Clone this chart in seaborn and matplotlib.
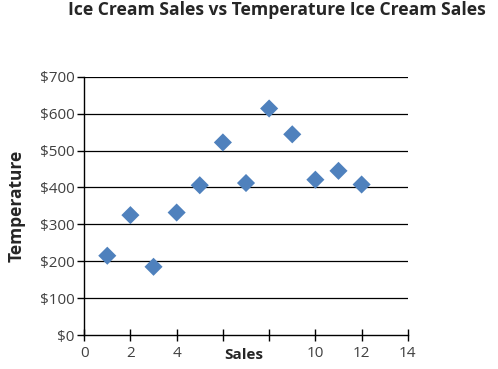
import matplotlib
matplotlib.use("Agg")
import matplotlib.pyplot as plt
import seaborn as sns
import pandas as pd
from matplotlib.ticker import FuncFormatter

# data
sales = [1, 2, 3, 4, 5, 6, 7, 8, 9, 10, 11, 12]
temperature = [215, 325, 185, 332, 406, 522, 412, 614, 544, 421, 445, 408]
x_ticks = [0, 2, 4, 6, 8, 10, 12, 14]
# 6 and 8 are hidden behind the "Sales" label in the original
x_tick_labels = ["0", "2", "4", "", "", "10", "12", "14"]
y_ticks = [0, 100, 200, 300, 400, 500, 600, 700]

df = pd.DataFrame({"Sales": sales, "Temperature": temperature})

sns.set_style("white")
plt.rcParams["font.family"] = ["Open Sans", "DejaVu Sans"]

fig = plt.figure(figsize=(4.98, 3.69), dpi=100)
ax = fig.add_axes([0.169, 0.092, 0.650, 0.700])

for y in y_ticks[1:]:
    ax.axhline(y, color="black", lw=0.9, zorder=0)

sns.scatterplot(data=df, x="Sales", y="Temperature", marker="D", s=85,
                color="#4F81BD", edgecolor="none", ax=ax, zorder=3)

ax.set_xlim(0, 14)
ax.set_ylim(0, 700)
ax.set_xticks(x_ticks)
ax.set_xticklabels(x_tick_labels)
ax.set_yticks(y_ticks)
ax.yaxis.set_major_formatter(FuncFormatter(lambda v, p: f"${int(v)}"))

for s in ["top", "right"]:
    ax.spines[s].set_visible(False)
for s in ["left", "bottom"]:
    ax.spines[s].set_color("black")
    ax.spines[s].set_linewidth(1.0)

ax.tick_params(axis="y", which="major", direction="out", length=5, width=1,
               color="black", labelsize=11, labelcolor="#404040", pad=2, left=True)
ax.tick_params(axis="x", which="major", direction="inout", length=8, width=1,
               color="black", labelsize=11, labelcolor="#404040", pad=4, bottom=True)

ax.set_xlabel("")
ax.set_ylabel("Temperature", fontsize=12.5, fontweight="bold", labelpad=10)

fig.text(0.49, 0.038, "Sales", ha="center", va="center", fontsize=11, fontweight="bold")

fig.text(0.976, 0.972, "Ice Cream Sales vs Temperature Ice Cream Sales", ha="right",
         va="center", fontsize=12.6, fontweight="bold")

fig.savefig("out.png", dpi=100)
